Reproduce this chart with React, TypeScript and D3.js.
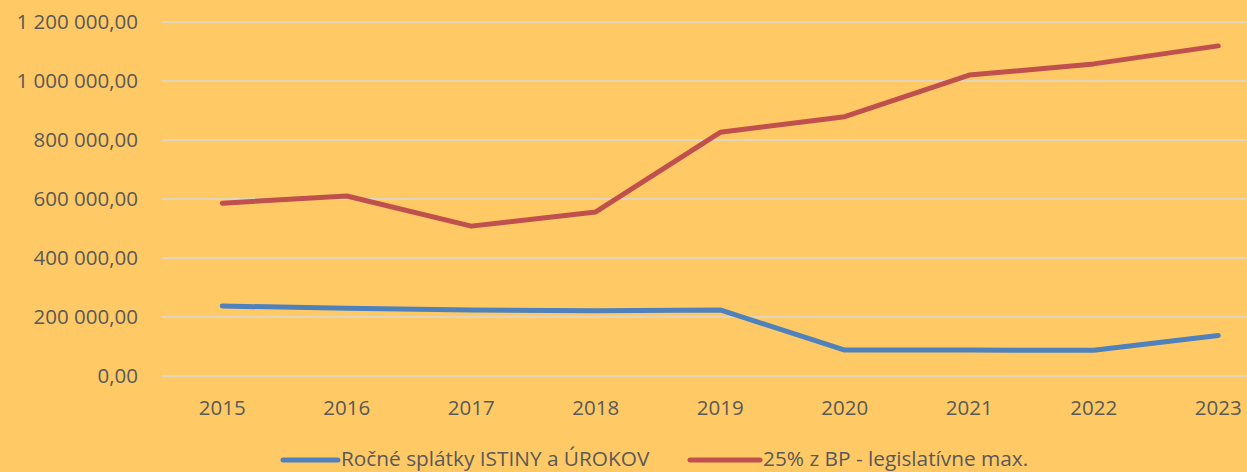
import React from "react";
import * as d3 from "d3";

const years = ["2015", "2016", "2017", "2018", "2019", "2020", "2021", "2022", "2023"];
const splatky = [237000, 230000, 224000, 221000, 224000, 88000, 88000, 87000, 137000];
const limit25 = [586000, 610000, 508000, 556000, 826000, 879000, 1020000, 1058000, 1119000];
const yTicks = [0, 200000, 400000, 600000, 800000, 1000000, 1200000];
const seriesNames = ["Ročné splátky ISTINY a ÚROKOV", "25% z BP - legislatívne max."];
const seriesColors = ["#4F81BD", "#C0504D"];

const W = 1247;
const H = 472;

function fmt(v: number): string {
  const s = Math.round(v).toString().replace(/\B(?=(\d{3})+(?!\d))/g, " ");
  return s + ",00";
}

export default function App() {
  const x = d3.scaleBand<string>().domain(years).range([160, 1280.5]);
  const y = d3.scaleLinear().domain([0, 1200000]).range([376, 22]);
  const cx = (d: string) => (x(d) as number) + x.bandwidth() / 2;
  const line = d3
    .line<number>()
    .x((_, i) => cx(years[i]))
    .y((v) => y(v));
  const font = "'Open Sans', 'Liberation Sans', sans-serif";
  const textColor = "#595959";
  const series = [splatky, limit25];
  const legendX = [283, 690];
  const legendLen = [55, 70];
  return (
    <svg
      width={W}
      height={H}
      style={{ position: "absolute", left: 0, top: 0, display: "block" }}
      fontFamily={font}
    >
      <rect x={0} y={0} width={W} height={H} fill="#FFCA66" />
      {yTicks.map((t) => (
        <g key={t}>
          <line x1={162} x2={W} y1={y(t)} y2={y(t)} stroke="#D9D9D9" strokeWidth={1.5} />
          <text
            x={138}
            y={y(t)}
            dy="0.35em"
            textAnchor="end"
            fontSize={20.5}
            fill={textColor}
          >
            {fmt(t)}
          </text>
        </g>
      ))}
      {years.map((yr) => (
        <text key={yr} x={cx(yr)} y={408} dy="0.35em" textAnchor="middle" fontSize={20.5} fill={textColor}>
          {yr}
        </text>
      ))}
      {series.map((s, i) => (
        <path
          key={i}
          d={line(s) as string}
          fill="none"
          stroke={seriesColors[i]}
          strokeWidth={5}
          strokeLinecap="round"
          strokeLinejoin="round"
        />
      ))}
      {seriesNames.map((n, i) => (
        <g key={n}>
          <line
            x1={legendX[i]}
            x2={legendX[i] + legendLen[i]}
            y1={460}
            y2={460}
            stroke={seriesColors[i]}
            strokeWidth={5}
            strokeLinecap="round"
          />
          <text x={legendX[i] + legendLen[i] + 3} y={459} dy="0.35em" fontSize={20.8} fill={textColor}>
            {n}
          </text>
        </g>
      ))}
    </svg>
  );
}
